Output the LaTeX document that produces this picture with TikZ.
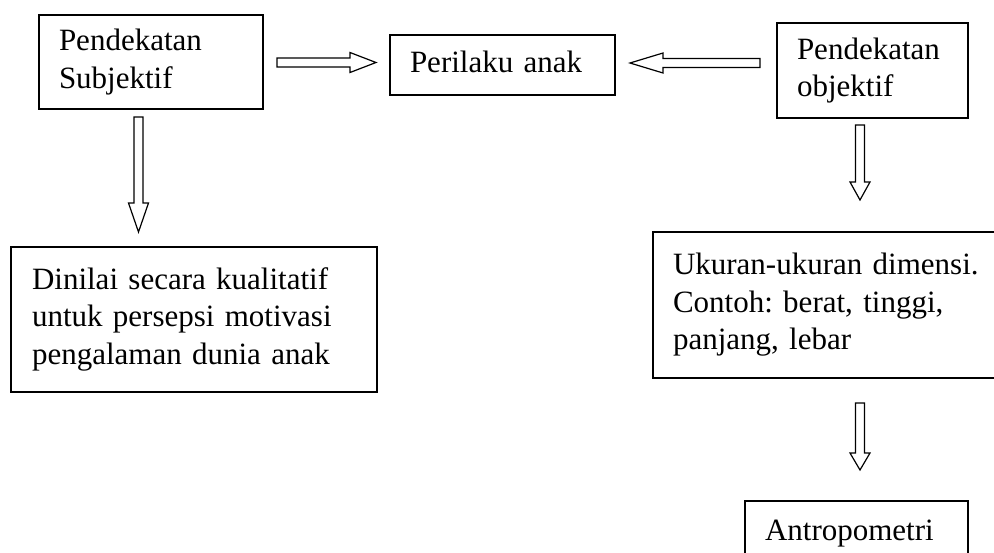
\documentclass[tikz,border=0pt]{standalone}
\usepackage{fontspec}
\setmainfont{Liberation Serif}
\frenchspacing
\usetikzlibrary{calc}
\tikzset{
  boxnode/.style={draw=black, line width=1.5pt, rectangle, align=left, inner ysep=0pt,
    font=\fontsize{31}{37.5}\selectfont\frenchspacing,
    execute at begin node=\strut, execute at end node=\strut},
  blockarr/.style={draw=black, line width=1.2pt, fill=white, line join=miter},
}
% #1 tail coordinate, #2 tip coordinate, #3 head length
\newcommand{\hollowarrow}[3]{%
  \draw[blockarr] let \p1=(#1), \p2=(#2),
    \n1={atan2(\y2-\y1,\x2-\x1)}, \n2={veclen(\x2-\x1,\y2-\y1)} in
    [shift={(\p1)}, rotate=\n1, x=1pt, y=1pt]
    (0,-4.5) -- (\n2-#3,-4.5) -- (\n2-#3,-10) -- (\n2,0) -- (\n2-#3,10) -- (\n2-#3,4.5) -- (0,4.5) -- cycle;}
\begin{document}
\begin{tikzpicture}[x=1pt, y=-1pt]
\useasboundingbox (0,0) rectangle (994,553);
\clip (0,0) rectangle (994,553);
\fill[white] (0,0) rectangle (994,553);

\node[boxnode, minimum width=224pt, minimum height=94pt, inner xsep=20pt, text width=184pt]
  (subj) at (151,62) {Pendekatan\\Subjektif};
\node[boxnode, minimum width=225pt, minimum height=60pt, inner xsep=20pt, text width=185pt]
  (peri) at (502.5,65) {Perilaku anak};
\node[boxnode, minimum width=191pt, minimum height=95pt, inner xsep=20pt, text width=151pt]
  (obj) at (872.5,70.5) {Pendekatan\\objektif};
\node[boxnode, minimum width=366pt, minimum height=145pt, inner xsep=21pt, text width=324pt]
  (dini) at (194,319.5) {Dinilai secara kualitatif\\untuk persepsi motivasi\\pengalaman dunia anak};
\node[boxnode, minimum width=347pt, minimum height=146pt, inner xsep=20pt, text width=307pt]
  (ukur) at (826.5,305) {Ukuran-ukuran dimensi.\\Contoh: berat, tinggi,\\panjang, lebar};
\node[boxnode, minimum width=223pt, minimum height=64pt, inner xsep=20pt, text width=183pt]
  (antro) at (856.5,533) {Antropometri};

% arrow end points
\coordinate (a1s) at (277,62.5);
\coordinate (a1e) at (376,62.5);
\coordinate (a2s) at (760,63);
\coordinate (a2e) at (630,63);
\coordinate (a3s) at (138.5,117);
\coordinate (a3e) at (138.5,232);
\coordinate (a4s) at (860,125);
\coordinate (a4e) at (860,200);
\coordinate (a5s) at (860,403);
\coordinate (a5e) at (860,470);

\hollowarrow{a1s}{a1e}{26}
\hollowarrow{a2s}{a2e}{33}
\hollowarrow{a3s}{a3e}{29}
\hollowarrow{a4s}{a4e}{18}
\hollowarrow{a5s}{a5e}{17}
\end{tikzpicture}
\end{document}
